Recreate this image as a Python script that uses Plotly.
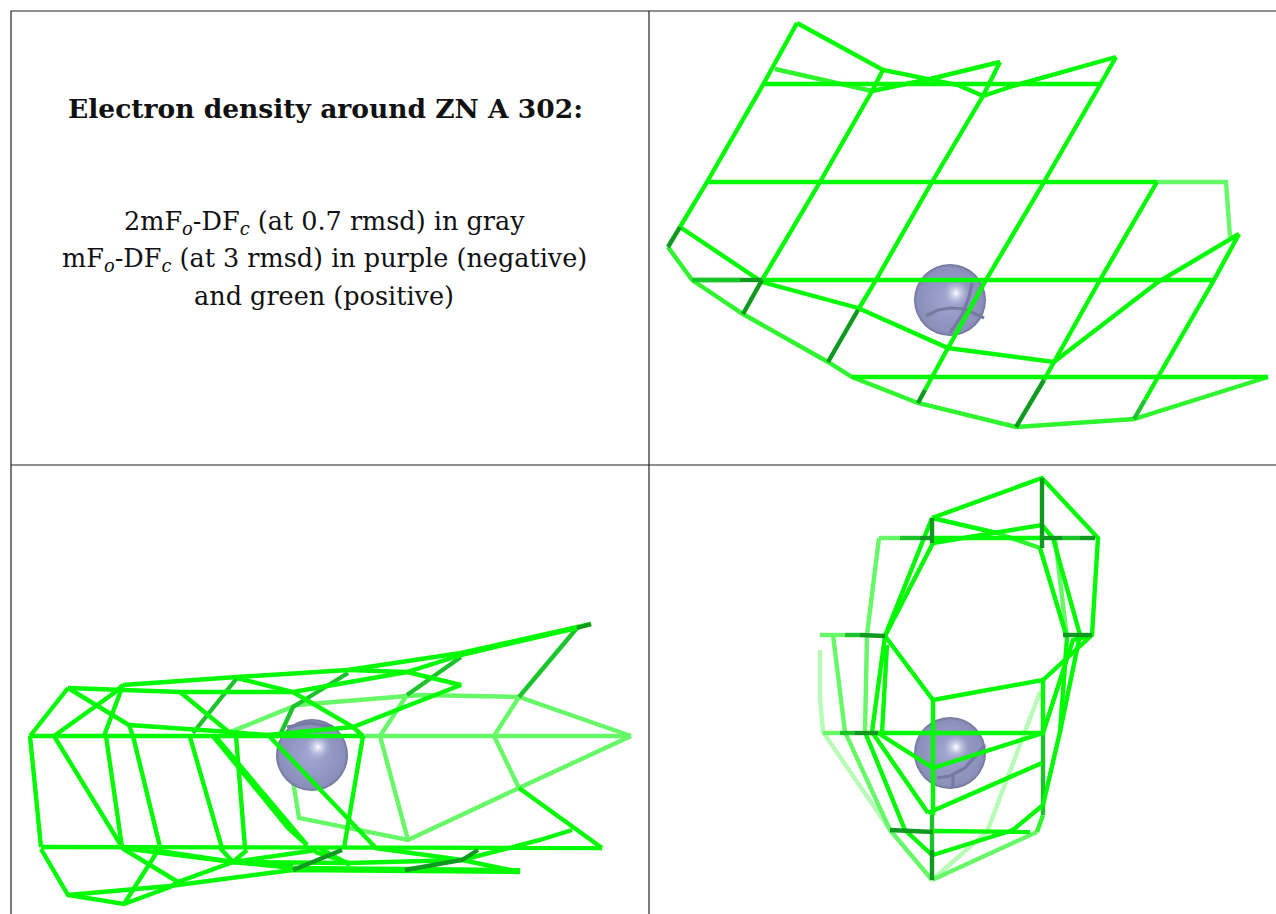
import plotly.graph_objects as go

# ---- data: wireframe polylines (page pixels) ----
table_rules = [[(11, 914), (11, 11), (1276, 11)], [(649, 11), (649, 914)], [(11, 465), (1276, 465)]]

heading = "<b>Electron density around ZN A 302:</b>"
body_lines = ["2mF<sub><i>o</i></sub>-DF<sub><i>c</i></sub> (at 0.7 rmsd) in gray",
              "mF<sub><i>o</i></sub>-DF<sub><i>c</i></sub> (at 3 rmsd) in purple (negative)",
              "and green (positive)"]
heading_xy = (325, 108)
body_y = [222, 259, 296]
body_x = 324

ball_x = [950, 312, 950]
ball_y = [300, 755, 753]
glint_x = [956, 318, 956]
glint_y = [293, 747, 747]

ball_inner = [
    [(926, 316), (938, 310), (950, 308), (965, 309), (984, 318)],
    [(972, 283), (969, 297), (962, 315), (950, 333)],
    [(287, 727), (310, 723), (333, 727)],
    [(937, 778), (950, 776), (965, 768), (985, 745)], [(953, 775), (953, 788)],
]

# top right panel
tr_bright = [
    [(797, 23), (764, 83), (707, 182), (680, 227)],
    [(883, 70), (872, 91), (820, 182), (762, 280)],
    [(1000, 62), (983, 96), (932, 182), (876, 280), (858, 310)],
    [(1116, 57), (1100, 85), (1044, 182), (986, 280), (948, 348), (925, 390)],
    [(1157, 182), (1100, 280), (1054, 362), (1044, 380)],
    [(1239, 234), (1214, 280), (1158, 377), (1145, 400)],
    [(797, 23), (883, 70), (958, 85), (983, 96), (1013, 86), (1116, 57)],
    [(872, 91), (930, 79), (1000, 62)],
    [(764, 84), (1100, 84)],
    [(707, 182), (1157, 182)],
    [(762, 280), (1214, 280)],
    [(852, 377), (1268, 377)],
    [(680, 227), (762, 282), (858, 308), (948, 348), (1054, 362), (1158, 282), (1239, 234)],
]
tr_light = [
    [(775, 69), (872, 91)],
    [(668, 247), (692, 280), (743, 314), (828, 362), (852, 377), (918, 403), (1016, 427), (1134, 419), (1268, 377)],
    [(692, 280), (740, 280)],
]
tr_fade = [[(1157, 182), (1226, 182), (1230, 237)]]
tr_dark = [
    [(680, 227), (668, 247)], [(740, 280), (762, 280)], [(762, 280), (743, 314)],
    [(858, 310), (828, 362)], [(925, 390), (918, 403)], [(1044, 380), (1016, 427)],
]
tr_mid = [[(1145, 400), (1134, 419)], [(692, 280), (740, 280)]]

# bottom left panel
bl_pale = [
    [(363, 736), (631, 736)],
    [(230, 732), (297, 705), (420, 695), (519, 697), (631, 736)],
    [(631, 736), (519, 788), (408, 840), (299, 818), (286, 737)],
    [(380, 736), (408, 840)],
    [(494, 736), (519, 788)],
    [(519, 697), (494, 736)],
    [(407, 695), (380, 736)],
]
bl_bright = [
    [(123, 685), (237, 677), (348, 670), (461, 653), (591, 624)],
    [(68, 688), (180, 692), (293, 692), (407, 672), (461, 655), (577, 628)],
    [(348, 670), (407, 672), (461, 685), (353, 727), (267, 735)],
    [(54, 736), (114, 693), (123, 685)],
    [(68, 688), (129, 725), (133, 736)],
    [(68, 688), (30, 736)],
    [(180, 692), (230, 733)],
    [(237, 678), (293, 692), (353, 727), (363, 736)],
    [(123, 685), (104, 736)],
    [(129, 725), (230, 732), (267, 735)],
    [(30, 736), (363, 736)],
    [(30, 736), (41, 847)],
    [(54, 736), (122, 847)],
    [(106, 736), (122, 847)],
    [(133, 736), (160, 847)],
    [(190, 737), (222, 848)],
    [(236, 736), (245, 848)],
    [(212, 735), (288, 828), (307, 845)],
    [(216, 737), (307, 845)],
    [(270, 737), (375, 847)],
    [(363, 736), (344, 848)],
    [(519, 788), (602, 848)],
    [(41, 847), (602, 848)],
    [(41, 849), (68, 895), (124, 904), (170, 887), (178, 882), (233, 862), (247, 850)],
    [(68, 895), (170, 886), (293, 870), (520, 872)],
    [(293, 868), (520, 870)],
    [(124, 904), (157, 852), (160, 847)],
    [(122, 848), (178, 882)],
    [(122, 848), (233, 862), (293, 868)],
    [(153, 850), (233, 862)],
    [(220, 848), (233, 862), (317, 850)],
    [(233, 862), (349, 863), (462, 860), (540, 840), (572, 830)],
    [(315, 852), (349, 863)],
    [(375, 848), (462, 860), (520, 872)],
    [(319, 848), (350, 865)],
]
bl_mid = [
    [(348, 673), (293, 707), (280, 735)],
    [(461, 657), (407, 695)],
    [(577, 628), (519, 697)],
    [(237, 678), (193, 733)],
    [(233, 862), (293, 866)],
]
bl_dark = [
    [(342, 850), (293, 870)], [(478, 850), (462, 860), (405, 870)],
    [(591, 624), (577, 628)],
]

# bottom right panel
br_pale = [
    [(820, 650), (820, 698), (823, 732), (890, 830)],
    [(932, 880), (987, 832), (1040, 692)],
]
br_fade = [
    [(833, 635), (845, 732), (890, 830), (932, 880)],
    [(879, 538), (867, 635), (865, 732)],
    [(1055, 538), (1067, 638)],
    [(932, 880), (1037, 832)],
    [(820, 635), (845, 635)],
    [(823, 733), (840, 733)],
    [(879, 538), (900, 538)],
]
br_bright = [
    [(932, 518), (1042, 478), (1098, 538), (1092, 635), (1043, 680), (933, 700), (885, 636), (932, 518)],
    [(933, 543), (885, 636)],
    [(933, 543), (1042, 525), (1053, 538), (1080, 635), (1060, 732), (1043, 805)],
    [(932, 518), (997, 533)],
    [(1040, 548), (1067, 638), (1060, 732)],
    [(933, 538), (1042, 538)],
    [(885, 636), (872, 732), (928, 813)],
    [(887, 645), (882, 733)],
    [(878, 733), (933, 768), (1043, 733)],
    [(928, 813), (1042, 763)],
    [(933, 855), (1013, 830), (1043, 805)],
    [(865, 732), (905, 830), (932, 855)],
    [(870, 733), (1045, 733)],
    [(933, 831), (1030, 832)],
    [(1043, 733), (1073, 640), (1092, 635)],
    [(933, 700), (933, 815)],
    [(1043, 680), (1043, 733)],
]
br_light = [
    [(997, 533), (1040, 548)],
    [(1037, 832), (1043, 815)],
]
br_mid = [
    [(900, 538), (920, 538)], [(1062, 538), (1080, 538)],
    [(845, 635), (860, 635)], [(840, 733), (855, 733)],
    [(1043, 733), (1043, 815)],
    [(932, 815), (932, 850)],
]
br_dark = [
    [(920, 538), (933, 538)], [(1042, 538), (1062, 538)], [(1080, 538), (1095, 538)],
    [(1042, 478), (1042, 548)], [(932, 518), (932, 543)],
    [(860, 635), (885, 636)], [(1063, 635), (1092, 635)],
    [(855, 733), (878, 733)],
    [(890, 830), (933, 832)], [(932, 850), (932, 880)],
]

# ---- styles ----
BRIGHT, LIGHT, FADE, PALE, MID, DARK = "#04fa04", "#2ef52e", "#66f866", "#b6fbb6", "#1cc42c", "#0e9a1e"
LINE_W = 4.4


def xy(polys):
    xs, ys = [], []
    for poly in polys:
        xs += [p[0] for p in poly] + [None]
        ys += [p[1] for p in poly] + [None]
    return xs, ys


def lines(polys, color, width=LINE_W):
    xs, ys = xy(polys)
    return go.Scatter(x=xs, y=ys, mode="lines", hoverinfo="skip", showlegend=False,
                      line=dict(color=color, width=width, simplify=False))


def ball(size, edge, centre=None):
    marker = dict(size=size, color=edge, line=dict(width=0))
    if centre:
        marker["gradient"] = dict(type="radial", color=centre)
    return go.Scatter(x=ball_x, y=ball_y, mode="markers", hoverinfo="skip", showlegend=False, marker=marker)


fig = go.Figure()
fig.add_trace(lines(table_rules, "#222222", 1.2))
fig.add_trace(lines(br_pale, PALE))
fig.add_trace(lines(br_fade, FADE))
fig.add_trace(lines(bl_pale, FADE))
fig.add_trace(lines(tr_fade, FADE))
fig.add_trace(ball(72, "#70759a"))
fig.add_trace(ball(70, "#8085ad"))
fig.add_trace(ball(67, "#8a8fb9", "#a2a7d3"))
fig.add_trace(go.Scatter(x=glint_x, y=glint_y, mode="markers", hoverinfo="skip", showlegend=False,
                         marker=dict(size=28, color="rgba(162,167,211,0)", line=dict(width=0),
                                     gradient=dict(type="radial", color="rgba(255,255,255,1)"))))
fig.add_trace(lines(ball_inner, "#757aa2", 3.2))
for group, col in [(tr_light, LIGHT), (br_light, LIGHT), (tr_mid, MID), (bl_mid, MID), (br_mid, MID),
                   (tr_bright, BRIGHT), (bl_bright, BRIGHT), (br_bright, BRIGHT),
                   (tr_dark, DARK), (bl_dark, DARK), (br_dark, DARK)]:
    fig.add_trace(lines(group, col))

anns = [dict(x=heading_xy[0], y=heading_xy[1], text=heading, showarrow=False, xanchor="center",
             yanchor="middle", font=dict(family="DejaVu Serif", size=26.5, color="#111111"))]
for t, yy in zip(body_lines, body_y):
    anns.append(dict(x=body_x, y=yy, text=t, showarrow=False, xanchor="center", yanchor="middle",
                     font=dict(family="DejaVu Serif", size=25.5, color="#111111")))

fig.update_layout(width=1276, height=914, margin=dict(l=0, r=0, t=0, b=0),
                  paper_bgcolor="white", plot_bgcolor="white", showlegend=False, annotations=anns,
                  xaxis=dict(range=[0, 1276], visible=False, fixedrange=True),
                  yaxis=dict(range=[914, 0], visible=False, fixedrange=True))
fig.write_html("out.html", post_script="document.body.style.margin='0';document.body.style.overflow='hidden';",
               config={"displayModeBar": False})
